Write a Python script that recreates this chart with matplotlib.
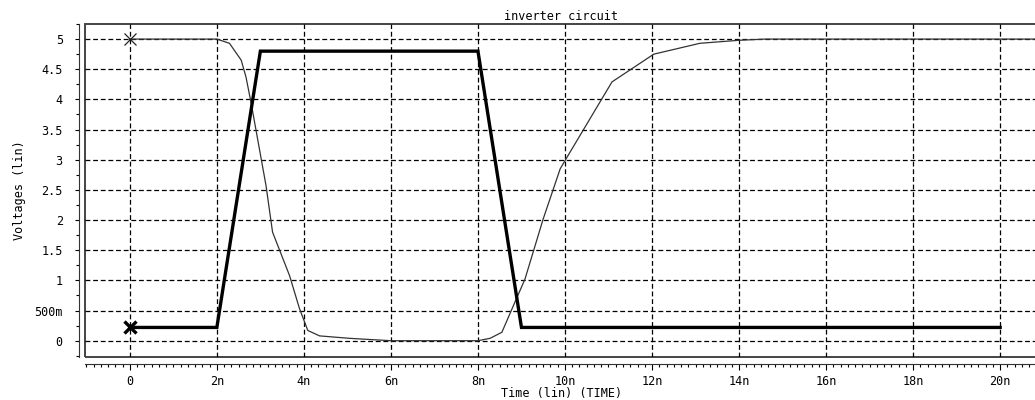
import numpy as np
import matplotlib
matplotlib.use("Agg")
import matplotlib.pyplot as plt
from matplotlib.patches import Rectangle
from matplotlib.ticker import MultipleLocator

plt.rcParams['font.family'] = ['DejaVu Sans Mono']
plt.rcParams['lines.scale_dashes'] = False

# Input pulse (ns, V)
t_in = [0, 2, 3, 8, 9, 20]
v_in = [0.22, 0.22, 4.8, 4.8, 0.22, 0.22]

# Inverter output (ns, V)
t_out = [0, 2.0, 2.29, 2.56, 2.67, 2.79, 2.98, 3.13, 3.28, 3.67, 3.90, 4.09, 4.36, 5.04,
         6.0, 8.0, 8.28, 8.55, 8.85, 9.08, 9.50, 9.89, 10.12, 11.08, 12.04, 13.1, 14.0, 14.6, 20.8]
v_out = [5.0, 5.0, 4.93, 4.65, 4.37, 3.93, 3.17, 2.57, 1.80, 1.08, 0.53, 0.17, 0.08, 0.04,
         0.0, 0.0, 0.04, 0.14, 0.64, 1.02, 2.02, 2.85, 3.13, 4.29, 4.75, 4.93, 4.98, 5.0, 5.0]

xticks = [0, 2, 4, 6, 8, 10, 12, 14, 16, 18, 20]
xlabels = ['0'] + ['%dn' % v for v in xticks[1:]]
yticks = [0, 0.5, 1, 1.5, 2, 2.5, 3, 3.5, 4, 4.5, 5]
ylabels = ['0', '500m', '1', '1.5', '2', '2.5', '3', '3.5', '4', '4.5', '5']

fig = plt.figure(figsize=(10.35, 4.0), dpi=100)
ax = fig.add_axes([85 / 1035, 43 / 400, 953 / 1035, 333 / 400])

ax.plot(t_out, v_out, color='#333333', lw=0.9)
ax.plot(t_in, v_in, color='black', lw=2.4, solid_joinstyle='miter')
ax.plot([0], [5.0], marker='x', ms=9, mew=0.9, color='#222222')
ax.plot([0], [0.22], marker='x', ms=9, mew=2.4, color='black')

ax.set_xlim(-1.03, 20.87)
ax.set_ylim(-0.27, 5.25)

ax.set_xticks(xticks)
ax.set_xticklabels(xlabels)
ax.set_yticks(yticks)
ax.set_yticklabels(ylabels)
ax.xaxis.set_minor_locator(MultipleLocator(1 / 6))
ax.yaxis.set_minor_locator(MultipleLocator(0.25))

ax.grid(True, which='major', color='black', lw=0.9, linestyle=(0, (3.5, 2)))

for s in ['top', 'right']:
    ax.spines[s].set_visible(False)
ax.spines['left'].set_position(('outward', 4))
ax.spines['bottom'].set_position(('outward', 5))
ax.spines['left'].set_color('#333333')
ax.spines['bottom'].set_color('#333333')
ax.add_patch(Rectangle((0, 0), 1, 1, transform=ax.transAxes, fill=False,
                       ec='#444444', lw=1.4, clip_on=False))

ax.tick_params(axis='y', which='major', length=3, width=0.8, pad=9, labelsize=8.5)
ax.tick_params(axis='y', which='minor', length=2, width=0.8)
ax.tick_params(axis='x', which='major', length=4, width=0.8, pad=4, labelsize=8.5)
ax.tick_params(axis='x', which='minor', length=2, width=0.8)

ax.set_xlabel('Time (lin) (TIME)', fontsize=8.5, labelpad=-1)
ax.set_ylabel('Voltages (lin)', fontsize=8.5, labelpad=6)
ax.set_title('inverter circuit', fontsize=8.5, pad=3)

fig.savefig('out.png', dpi=100)
